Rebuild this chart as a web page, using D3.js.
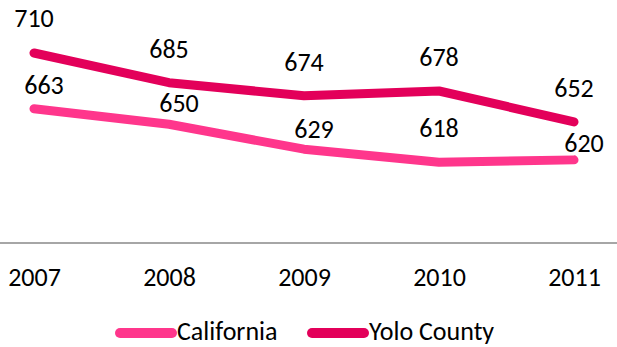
<!DOCTYPE html>
<html>
<head>
<meta charset="utf-8">
<script src="https://cdn.jsdelivr.net/npm/d3@7"></script>
<style>
  html, body { margin: 0; padding: 0; background: #fff; }
  svg { display: block; font-family: Carlito, Lato, "Open Sans", sans-serif; }
</style>
</head>
<body>
<svg id="chart" width="617" height="347"></svg>
<script>
// Years on the category axis
const years = ["2007", "2008", "2009", "2010", "2011"];
// Series values
const california = [663, 650, 629, 618, 620];
const yolo = [710, 685, 674, 678, 652];
const seriesNames = ["California", "Yolo County"];
const seriesColors = ["#FF368C", "#E3005A"];

const W = 617, H = 347;
const FONT = 26;
const svg = d3.select("#chart");

// Category scale: points evenly spaced across the plot
const x = d3.scalePoint().domain(years).range([34, 574]);
// Value scale (hidden axis 550–750)
const y = d3.scaleLinear().domain([550, 750]).range([243, 5.5]);

// Horizontal axis line
svg.append("line")
  .attr("x1", 0).attr("x2", W)
  .attr("y1", y(550)).attr("y2", y(550))
  .attr("stroke", "#A6A6A6").attr("stroke-width", 2);

// Year labels
const xAxis = d3.axisBottom(x).tickSize(0).tickPadding(0);
const gx = svg.append("g").attr("transform", `translate(0,${y(550)})`).call(xAxis);
gx.select(".domain").remove();
gx.selectAll("text")
  .attr("y", 43).attr("dy", null)
  .attr("font-size", FONT).attr("fill", "#000")
  .style("font-family", "Carlito, Lato, 'Open Sans', sans-serif");

const line = d3.line()
  .x((d, i) => x(years[i]))
  .y(d => y(d));

const series = [california, yolo];
series.forEach((vals, s) => {
  svg.append("path")
    .datum(vals)
    .attr("d", line)
    .attr("fill", "none")
    .attr("stroke", seriesColors[s])
    .attr("stroke-width", 9)
    .attr("stroke-linecap", "round")
    .attr("stroke-linejoin", "round");
});

// Data labels: Yolo County centred above; California nudged up and right
const labelShift = [
  [[10, -15], [10, -12], [10, -11], [0, -25], [10, -8]],
  [[0, -26], [0, -25], [0, -25], [0, -25], [0, -25]]
];
series.forEach((vals, s) => {
  svg.append("g").selectAll("text")
    .data(vals)
    .join("text")
    .attr("x", (d, i) => x(years[i]) + labelShift[s][i][0])
    .attr("y", (d, i) => y(d) + labelShift[s][i][1])
    .attr("text-anchor", "middle")
    .attr("font-size", FONT)
    .attr("fill", "#000")
    .text(d => d);
});

// Legend
const legendItems = [
  { name: seriesNames[0], color: seriesColors[0], x: 120 },
  { name: seriesNames[1], color: seriesColors[1], x: 312 }
];
const lg = svg.append("g");
legendItems.forEach(it => {
  lg.append("line")
    .attr("x1", it.x).attr("x2", it.x + 52)
    .attr("y1", 333).attr("y2", 333)
    .attr("stroke", it.color).attr("stroke-width", 10)
    .attr("stroke-linecap", "round");
  lg.append("text")
    .attr("x", it.x + 57).attr("y", 340)
    .attr("font-size", FONT).attr("fill", "#000")
    .text(it.name);
});
</script>
</body>
</html>
